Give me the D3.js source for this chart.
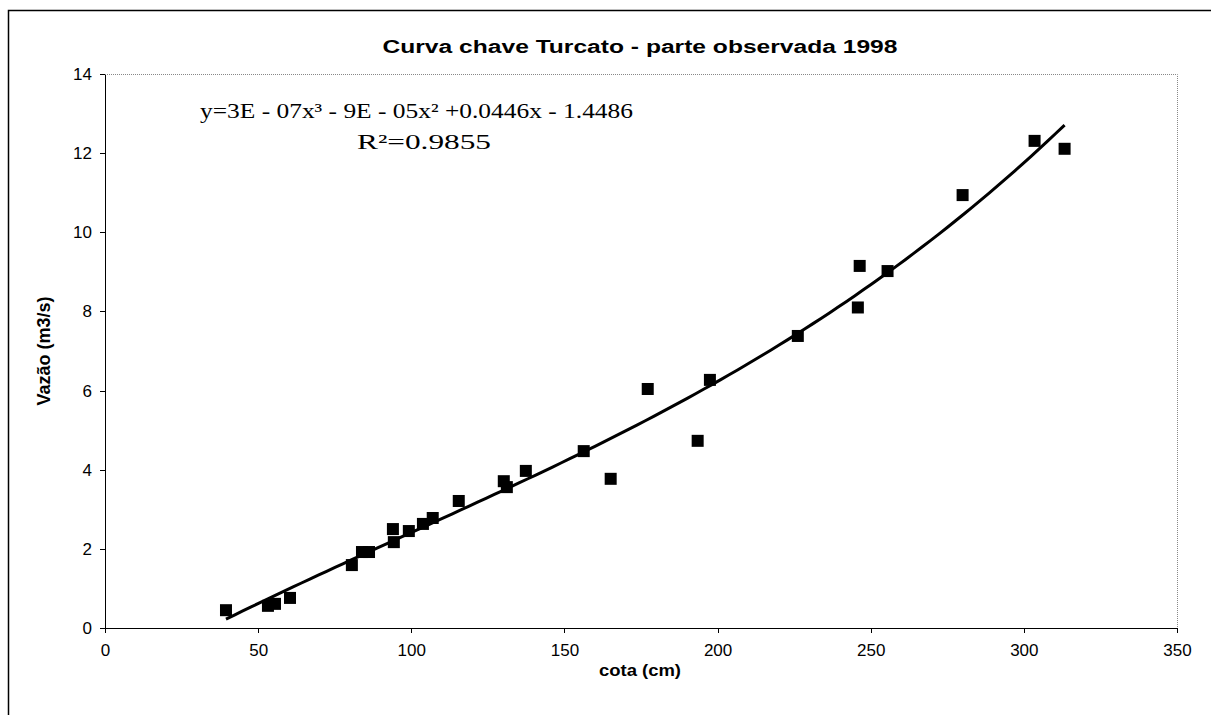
<!DOCTYPE html>
<html lang="pt">
  <head>
    <meta charset="utf-8">
<style>
body { margin: 0; background: #fff; }
svg text { font-family: "Liberation Sans", Arial, sans-serif; fill: #000; }
.tick text { font-size: 17px; }
.axis path, .axis line { stroke: #000; shape-rendering: crispEdges; }
.title, .label { font-weight: bold; }
.eq { font-family: "Liberation Serif", "Times New Roman", serif; font-size: 22px; }
</style>
</head>
<body>
<script src="https://d3js.org/d3.v7.min.js"></script>
<script>
// cota (cm)
var cota = [39.5, 53.2, 55.5, 60.4, 80.6, 83.9, 86.2, 94.0, 94.3, 99.2, 103.8, 107.0, 115.5,
            130.2, 131.2, 137.4, 156.3, 165.1, 177.2, 193.5, 197.5, 226.2, 245.8, 246.4, 255.5,
            280.0, 303.5, 313.3];
// vazao (m3/s)
var vazao = [0.45, 0.56, 0.61, 0.76, 1.59, 1.92, 1.92, 2.50, 2.17, 2.45, 2.63, 2.78, 3.21,
             3.71, 3.56, 3.97, 4.47, 3.77, 6.04, 4.73, 6.27, 7.38, 8.10, 9.15, 9.02,
             10.94, 12.31, 12.11];
var xTicks = [0, 50, 100, 150, 200, 250, 300, 350];
var yTicks = [0, 2, 4, 6, 8, 10, 12, 14];
var titleText = "Curva chave Turcato - parte observada 1998";
var eqText = "y=3E - 07x\u00B3  - 9E - 05x\u00B2 +0.0446x - 1.4486";
var r2Text = "R\u00B2=0.9855";

var W = 1211, H = 715;
var margin = {left: 105, right: 34, top: 74, bottom: 87};

var svg = d3.select("body").append("svg").attr("width", W).attr("height", H);

// chart frame
svg.append("rect").attr("x", 8.5).attr("y", 10.5).attr("width", W + 10).attr("height", H + 10)
    .attr("fill", "none").attr("stroke", "#000").attr("stroke-width", 1.5);

var x = d3.scaleLinear().domain([0, 350]).range([margin.left, W - margin.right]);
var y = d3.scaleLinear().domain([0, 14]).range([H - margin.bottom, margin.top]);

// plot area border (top/right dotted grey)
svg.append("path")
    .attr("d", "M" + x(0) + "," + (y(14) + 0.5) + "H" + (x(350) + 0.5) + "V" + y(0))
    .attr("fill", "none").attr("stroke", "#888").attr("stroke-dasharray", "1,1");

svg.append("g").attr("class", "axis")
    .attr("transform", "translate(0," + y(0) + ")")
    .call(d3.axisBottom(x).tickValues(xTicks).tickSize(5).tickPadding(8).tickSizeOuter(0))
    .call(function(g) { g.selectAll("text").attr("dy", "0.9em"); });

svg.append("g").attr("class", "axis")
    .attr("transform", "translate(" + x(0) + ",0)")
    .call(d3.axisLeft(y).tickValues(yTicks).tickSize(5).tickPadding(8).tickSizeOuter(0));

svg.selectAll(".tick text").attr("font-size", 17.5);

// least-squares cubic trendline through the points
function cubicFit(xs, ys) {
  var n = 4, A = [], b = [];
  for (var i = 0; i < n; i++) {
    A.push([0, 0, 0, 0]); b.push(0);
  }
  xs.forEach(function(xv, k) {
    for (var i = 0; i < n; i++) {
      for (var j = 0; j < n; j++) A[i][j] += Math.pow(xv, i + j);
      b[i] += ys[k] * Math.pow(xv, i);
    }
  });
  for (var c = 0; c < n; c++) {
    for (var r = c + 1; r < n; r++) {
      var f = A[r][c] / A[c][c];
      for (var k = c; k < n; k++) A[r][k] -= f * A[c][k];
      b[r] -= f * b[c];
    }
  }
  var co = [0, 0, 0, 0];
  for (var r2 = n - 1; r2 >= 0; r2--) {
    var s = b[r2];
    for (var k2 = r2 + 1; k2 < n; k2++) s -= A[r2][k2] * co[k2];
    co[r2] = s / A[r2][r2];
  }
  return co;
}
var co = cubicFit(cota, vazao);
var xmin = d3.min(cota), xmax = d3.max(cota);
var curve = d3.range(0, 101).map(function(i) {
  var xv = xmin + (xmax - xmin) * i / 100;
  return [xv, co[0] + co[1] * xv + co[2] * xv * xv + co[3] * xv * xv * xv];
});

svg.append("path").datum(curve)
    .attr("d", d3.line().x(function(d) { return x(d[0]); }).y(function(d) { return y(d[1]); }))
    .attr("fill", "none").attr("stroke", "#000").attr("stroke-width", 3);

var s = 12;
svg.selectAll(".pt").data(cota).enter().append("rect").attr("class", "pt")
    .attr("x", function(d) { return x(d) - s / 2; })
    .attr("y", function(d, i) { return y(vazao[i]) - s / 2; })
    .attr("width", s).attr("height", s).attr("fill", "#000");

// texts
svg.append("text").attr("class", "title").attr("x", 640).attr("y", 53)
    .attr("text-anchor", "middle").attr("font-size", 18).attr("textLength", 515)
    .attr("lengthAdjust", "spacingAndGlyphs").text(titleText);

svg.append("text").attr("class", "eq").attr("x", 200).attr("y", 118)
    .attr("textLength", 433).attr("lengthAdjust", "spacingAndGlyphs").text(eqText);
svg.append("text").attr("class", "eq").attr("x", 357).attr("y", 149)
    .attr("textLength", 134).attr("lengthAdjust", "spacingAndGlyphs").text(r2Text);

svg.append("text").attr("class", "label").attr("x", 640).attr("y", 676)
    .attr("text-anchor", "middle").attr("font-size", 16).attr("textLength", 82)
    .attr("lengthAdjust", "spacingAndGlyphs").text("cota (cm)");

svg.append("text").attr("class", "label")
    .attr("transform", "translate(50," + y(7) + ") rotate(-90)")
    .attr("text-anchor", "middle").attr("font-size", 18).text("Vazão (m3/s)");
</script>
</body>
</html>
